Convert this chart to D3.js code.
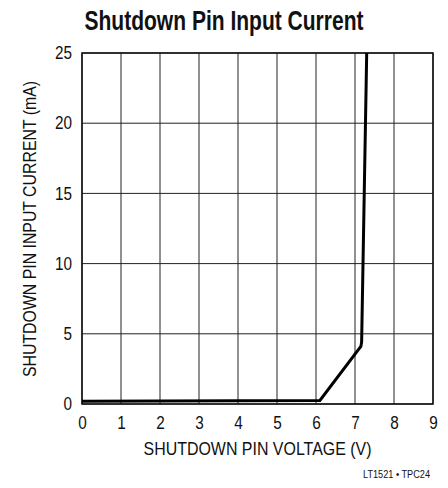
<!DOCTYPE html>
<html>
<head>
<meta charset="utf-8">
<script src="https://cdn.jsdelivr.net/npm/d3@7"></script>
<style>
  body { margin: 0; background: #fff; }
  svg text { font-family: "Liberation Sans", Arial, sans-serif; fill: #111; }
</style>
</head>
<body>
<div id="chart"></div>
<script>
// data
const voltage = [0, 6.1, 7.15, 7.17, 7.3];
const current = [0.2, 0.25, 4.1, 4.4, 25];
const xTicks = [0, 1, 2, 3, 4, 5, 6, 7, 8, 9];
const yTicks = [0, 5, 10, 15, 20, 25];

const width = 448, height = 488;
const margin = {top: 53, right: 15, bottom: 84, left: 82};

const svg = d3.select("#chart").append("svg")
    .attr("width", width)
    .attr("height", height);

const x = d3.scaleLinear().domain([0, 9]).range([margin.left, width - margin.right]);
const y = d3.scaleLinear().domain([0, 25]).range([height - margin.bottom, margin.top]);

// squeeze text horizontally, like the condensed face of the original
function narrow(sel, ratio) {
    sel.each(function() {
        const w = this.getComputedTextLength();
        d3.select(this).attr("textLength", w * ratio).attr("lengthAdjust", "spacingAndGlyphs");
    });
}

// grid
svg.append("g")
    .selectAll("line")
    .data(xTicks)
    .enter().append("line")
    .attr("x1", d => x(d)).attr("x2", d => x(d))
    .attr("y1", y(0)).attr("y2", y(25))
    .style("stroke", "#222")
    .style("stroke-width", 1);

svg.append("g")
    .selectAll("line")
    .data(yTicks)
    .enter().append("line")
    .attr("x1", x(0)).attr("x2", x(9))
    .attr("y1", d => y(d)).attr("y2", d => y(d))
    .style("stroke", "#222")
    .style("stroke-width", 1);

// frame
svg.append("rect")
    .attr("x", x(0)).attr("y", y(25))
    .attr("width", x(9) - x(0)).attr("height", y(0) - y(25))
    .style("fill", "none")
    .style("stroke", "#111")
    .style("stroke-width", 1.5);

// tick labels
const xAxis = svg.append("g")
    .attr("transform", "translate(0," + y(0) + ")")
    .call(d3.axisBottom(x).tickValues(xTicks).tickSize(0).tickPadding(12).tickFormat(d3.format("d")));
xAxis.select(".domain").remove();
xAxis.selectAll("text").style("font-size", "18px").attr("fill", "#111");
narrow(xAxis.selectAll("text"), 0.85);

const yAxis = svg.append("g")
    .attr("transform", "translate(" + x(0) + ",0)")
    .call(d3.axisLeft(y).tickValues(yTicks).tickSize(0).tickPadding(10).tickFormat(d3.format("d")));
yAxis.select(".domain").remove();
yAxis.selectAll("text").style("font-size", "18px").attr("fill", "#111");
narrow(yAxis.selectAll("text"), 0.85);

// curve
const line = d3.line()
    .x((d, i) => x(voltage[i]))
    .y((d, i) => y(current[i]));

svg.append("path")
    .datum(voltage)
    .attr("d", line)
    .style("fill", "none")
    .style("stroke", "#000")
    .style("stroke-width", 3)
    .style("stroke-linejoin", "miter");

// titles
svg.append("text")
    .attr("x", 224).attr("y", 30)
    .attr("text-anchor", "middle")
    .style("font-size", "27px")
    .style("font-weight", "bold")
    .attr("textLength", 279).attr("lengthAdjust", "spacingAndGlyphs")
    .text("Shutdown Pin Input Current");

svg.append("text")
    .attr("x", (x(0) + x(9)) / 2).attr("y", 455)
    .attr("text-anchor", "middle")
    .style("font-size", "18px")
    .attr("textLength", 228).attr("lengthAdjust", "spacingAndGlyphs")
    .text("SHUTDOWN PIN VOLTAGE (V)");

svg.append("text")
    .attr("transform", "translate(36,229) rotate(-90)")
    .attr("text-anchor", "middle")
    .style("font-size", "18px")
    .attr("textLength", 296).attr("lengthAdjust", "spacingAndGlyphs")
    .text("SHUTDOWN PIN INPUT CURRENT (mA)");

svg.append("text")
    .attr("x", 430).attr("y", 478)
    .attr("text-anchor", "end")
    .style("font-size", "10px")
    .attr("textLength", 67).attr("lengthAdjust", "spacingAndGlyphs")
    .text("LT1521 • TPC24");
</script>
</body>
</html>
